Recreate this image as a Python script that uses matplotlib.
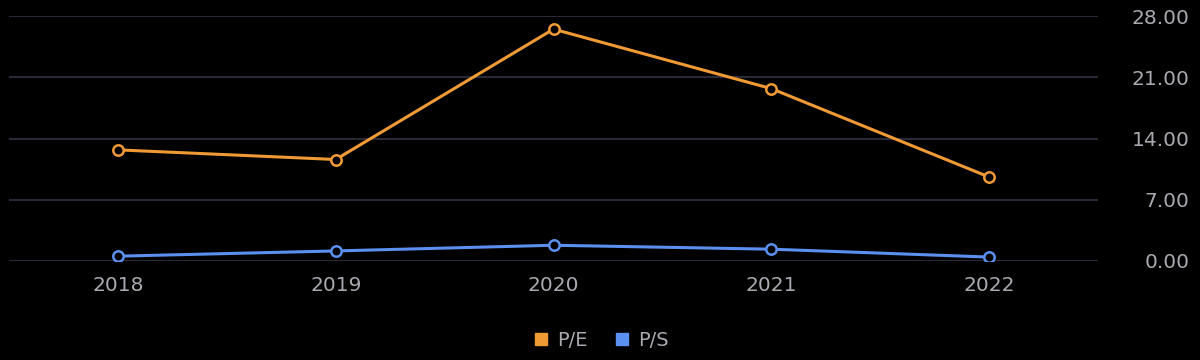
import matplotlib
matplotlib.use('Agg')
import matplotlib.pyplot as plt
from matplotlib.lines import Line2D

years = ['2018', '2019', '2020', '2021', '2022']
pe = [12.7, 11.6, 26.5, 19.7, 9.6]
ps = [0.55, 1.15, 1.8, 1.35, 0.45]
yticks = [0, 7, 14, 21, 28]

orange = '#f09a36'
blue = '#5b8ff0'
text_c = '#a9a9b0'
grid_c = '#2f2f3c'

fig = plt.figure(figsize=(12, 3.6), dpi=100, facecolor='black')
ax = fig.add_axes([9/1200, 1 - 261/360, (1098 - 9)/1200, (261 - 16)/360])
ax.set_facecolor('black')

x = list(range(len(years)))
for vals, c in [(pe, orange), (ps, blue)]:
  ax.plot(x, vals, color=c, linewidth=2.2, marker='o', markersize=7.5,
          markerfacecolor='black', markeredgecolor=c, markeredgewidth=1.8, zorder=3)

ax.set_xlim(-0.5, len(years) - 0.5)
ax.set_ylim(0, 28)
ax.set_yticks(yticks)
ax.set_yticklabels(['%.2f' % v for v in yticks])
ax.set_xticks(x)
ax.set_xticklabels(years)
ax.grid(axis='y', color=grid_c, linewidth=1.3)
ax.set_axisbelow(True)
for s in ax.spines.values():
  s.set_visible(False)
ax.tick_params(axis='both', length=0, colors=text_c, labelsize=14.5)
ax.tick_params(axis='x', pad=11)
ax.yaxis.tick_right()
ax.tick_params(axis='y', pad=66)
for lb in ax.get_yticklabels():
  lb.set_horizontalalignment('right')

handles = [Line2D([], [], marker='s', linestyle='none', color=orange, markersize=8),
           Line2D([], [], marker='s', linestyle='none', color=blue, markersize=8)]
leg = fig.legend(handles, ['P/E', 'P/S'], loc='center', bbox_to_anchor=(0.5, 1 - 340/360),
                 ncol=2, frameon=False, fontsize=14, handletextpad=0.3, columnspacing=1.3,
                 handlelength=1.0, labelcolor=text_c)

fig.savefig('out.png', dpi=100, facecolor='black')
